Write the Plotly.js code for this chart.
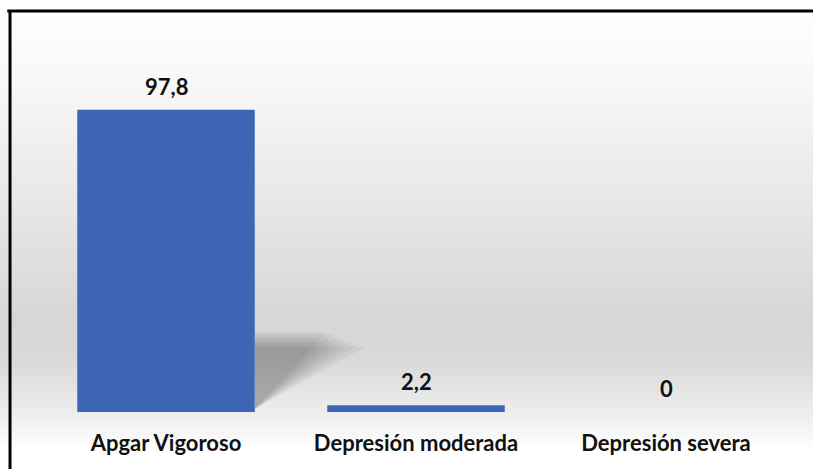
<!DOCTYPE html>
<html>
<head>
<meta charset="utf-8">
<script src="https://cdn.plot.ly/plotly-3.0.1.min.js"></script>
<style>
html,body{margin:0;padding:0;}
body{width:813px;height:469px;overflow:hidden;
background:linear-gradient(to bottom,#ffffff 0%,#fafafa 12.8%,#e8e8e8 42.6%,#d6d6d6 68%,#d9d9d9 76.8%,#f0f0f0 89.5%,#ffffff 96%,#ffffff 100%);}
#chart{width:813px;height:469px;}
</style>
</head>
<body>
<div id="chart"></div>
<script>
const categories = ["Apgar Vigoroso", "Depresión moderada", "Depresión severa"];
const values = [97.8, 2.2, 0];
const valueLabels = ["97,8", "2,2", "0"];

const barWidth = 0.71;
const FONT = 'Lato, "Open Sans", sans-serif';

// decorative soft perspective shadow behind the first bar
const sx = barWidth / 2;
const shadowTop = values[0] * 0.24;
const shadows = [];
for (let i = 0; i < 7; i++) {
  const top = shadowTop + (i - 3) * 0.8;
  const reach = 0.44 - i * 0.025;
  shadows.push({
    type: 'path', layer: 'below', xref: 'x', yref: 'y',
    path: 'M ' + sx + ',1 L ' + sx + ',' + top +
      ' L ' + (sx + reach) + ',' + top + ' Z',
    fillcolor: 'rgba(0,0,0,0.045)', line: {width: 0}
  });
}

const trace = {
  type: 'bar',
  x: categories,
  y: values,
  width: barWidth,
  marker: {color: '#3d66b7', line: {width: 0}},
  hoverinfo: 'none'
};

const annotations = categories.map(function (c, i) {
  return {
    x: c, y: values[i], xref: 'x', yref: 'y',
    text: '<b>' + valueLabels[i] + '</b>',
    showarrow: false, yanchor: 'bottom', yshift: 8,
    font: {family: FONT, size: 22, color: '#111'}
  };
});

const layout = {
  width: 813, height: 469,
  margin: {l: 41, r: 22, t: 103, b: 57},
  paper_bgcolor: 'rgba(0,0,0,0)',
  plot_bgcolor: 'rgba(0,0,0,0)',
  showlegend: false,
  xaxis: {
    type: 'category', range: [-0.5, 2.5],
    showgrid: false, zeroline: false, showline: false,
    ticks: '', ticklabelstandoff: 16,
    tickfont: {family: FONT, size: 22, color: '#111', weight: 'bold'}
  },
  yaxis: {
    range: [0, 100], visible: false, fixedrange: true
  },
  annotations: annotations,
  shapes: shadows.concat([
    {type: 'line', xref: 'paper', yref: 'paper', x0: -0.045, x1: 1.1, y0: 1.298, y1: 1.298,
     line: {color: '#000', width: 3}},
    {type: 'line', xref: 'paper', yref: 'paper', x0: -0.0413, x1: -0.0413, y0: 1.30, y1: -0.3,
     line: {color: '#000', width: 3}}
  ])
};

Plotly.newPlot('chart', [trace], layout, {displayModeBar: false, staticPlot: true});
</script>
</body>
</html>
